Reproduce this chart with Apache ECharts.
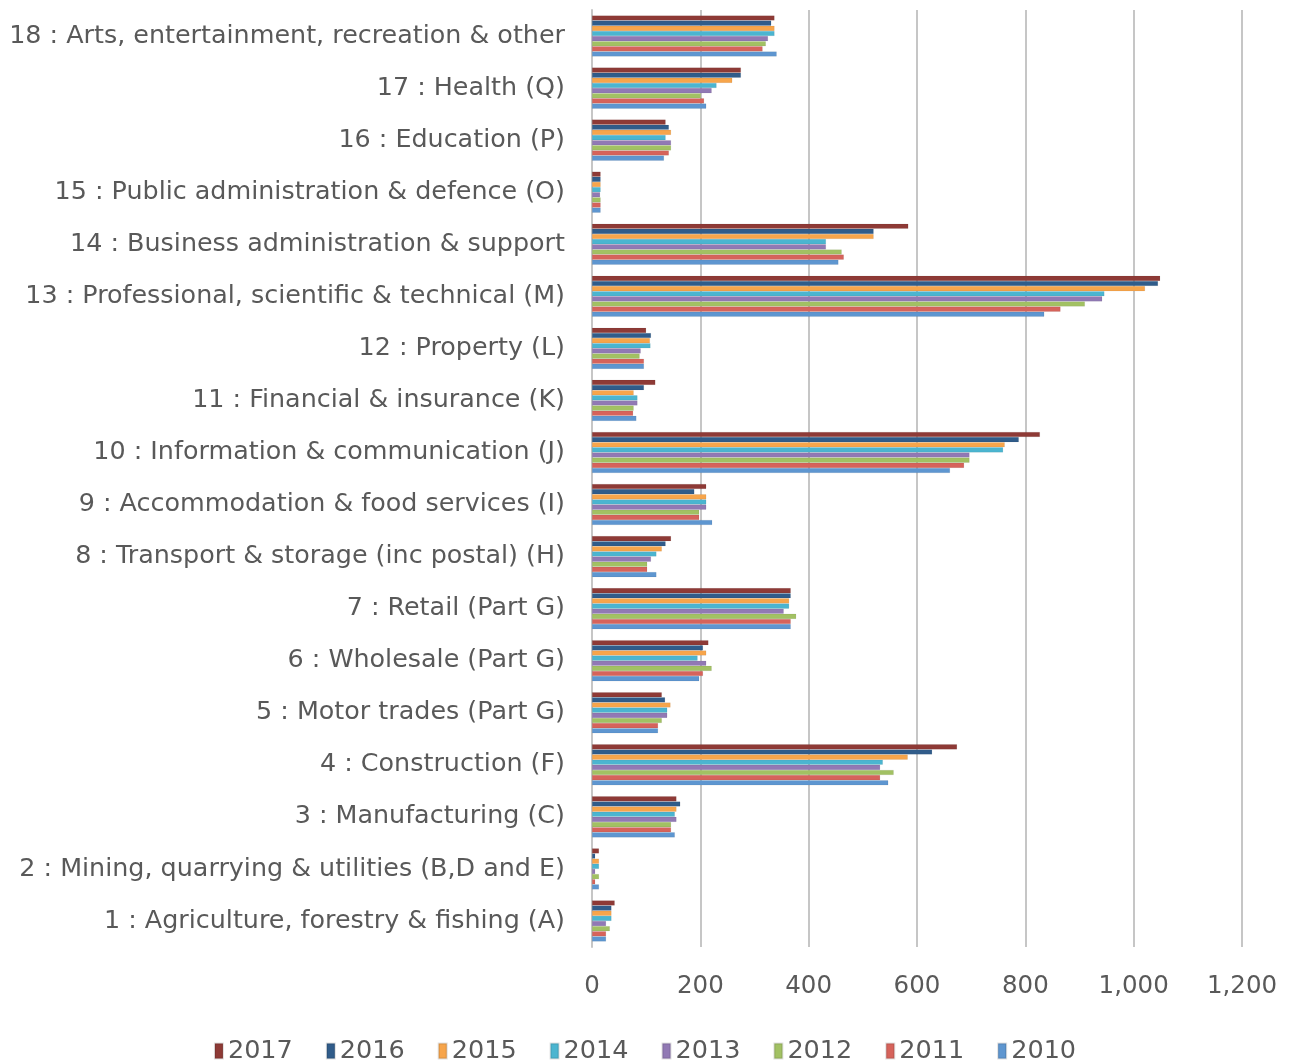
<!DOCTYPE html>
<html>
<head>
<meta charset="utf-8">
<script src="https://cdn.jsdelivr.net/npm/echarts@6/dist/echarts.min.js"></script>
<style>
  html, body { margin: 0; padding: 0; background: #fff; }
  #chart { width: 1290px; height: 1062px; }
</style>
</head>
<body>
<div id="chart"></div>
<script>
// categories bottom -> top
var sectors = [
  '1 : Agriculture, forestry & fishing (A)',
  '2 : Mining, quarrying & utilities (B,D and E)',
  '3 : Manufacturing (C)',
  '4 : Construction (F)',
  '5 : Motor trades (Part G)',
  '6 : Wholesale (Part G)',
  '7 : Retail (Part G)',
  '8 : Transport & storage (inc postal) (H)',
  '9 : Accommodation & food services (I)',
  '10 : Information & communication (J)',
  '11 : Financial & insurance (K)',
  '12 : Property (L)',
  '13 : Professional, scientific & technical (M)',
  '14 : Business administration & support',
  '15 : Public administration & defence (O)',
  '16 : Education (P)',
  '17 : Health (Q)',
  '18 : Arts, entertainment, recreation & other'
];

var years = ['2017', '2016', '2015', '2014', '2013', '2012', '2011', '2010'];
var yearColors = ['#8E3A36', '#305C8A', '#F7A54B', '#4BB5D0', '#9179B4', '#A2C163', '#D6635B', '#5E96D0'];

// values per year, same order as sectors
var v2017 = [42, 13, 156, 674, 129, 215, 367, 146, 211, 827, 117, 100, 1049, 584, 16, 136, 275, 337];
var v2016 = [36, 6, 163, 628, 135, 205, 367, 136, 189, 788, 96, 109, 1045, 520, 16, 142, 275, 331];
var v2015 = [36, 13, 156, 583, 145, 211, 364, 129, 211, 762, 77, 107, 1021, 520, 16, 146, 259, 337];
var v2014 = [36, 13, 153, 537, 139, 195, 364, 119, 211, 759, 84, 108, 946, 432, 16, 136, 230, 337];
var v2013 = [26, 6, 156, 532, 139, 211, 354, 109, 211, 697, 84, 90, 942, 432, 15, 146, 221, 325];
var v2012 = [33, 13, 146, 557, 129, 221, 377, 102, 198, 697, 77, 88, 910, 461, 16, 146, 201, 321];
var v2011 = [26, 6, 146, 532, 122, 205, 367, 102, 198, 687, 76, 96, 865, 465, 16, 142, 207, 315];
var v2010 = [26, 13, 153, 547, 122, 198, 367, 119, 222, 661, 82, 96, 835, 455, 16, 133, 211, 341];

var yearValues = [v2017, v2016, v2015, v2014, v2013, v2012, v2011, v2010];

var chart = echarts.init(document.getElementById('chart'));

var series = years.map(function (y, i) {
  return {
    name: y,
    type: 'bar',
    data: yearValues[i],
    barGap: '0%',
    barCategoryGap: '21%',
    itemStyle: { color: yearColors[i], borderColor: 'rgba(0,0,0,0.12)', borderWidth: 0.5 }
  };
});

var option = {
  animation: false,
  color: yearColors,
  grid: { left: 592, right: 48, top: 10, bottom: 115, containLabel: false },
  legend: {
    data: years,
    top: 1033,
    left: 'center',
    itemWidth: 8,
    itemHeight: 15,
    itemGap: 33,
    icon: 'rect',
    textStyle: { fontFamily: 'DejaVu Sans', fontSize: 25.5, color: '#595959' }
  },
  xAxis: {
    type: 'value',
    min: 0,
    max: 1200,
    interval: 200,
    axisLine: { show: false },
    axisTick: { show: false },
    splitLine: { lineStyle: { color: '#c6c6c6', width: 2 } },
    axisLabel: {
      margin: 27,
      fontFamily: 'DejaVu Sans',
      fontSize: 24.5,
      color: '#595959',
      formatter: function (v) { return v.toLocaleString('en-US'); }
    }
  },
  yAxis: {
    type: 'category',
    data: sectors,
    axisLine: { show: true, lineStyle: { color: '#c6c6c6', width: 2 } },
    axisTick: { show: false },
    axisLabel: {
      margin: 27,
      fontFamily: 'DejaVu Sans',
      fontSize: 25.4,
      color: '#595959',
      padding: [4, 0, 0, 0]
    }
  },
  series: series
};

chart.setOption(option);
</script>
</body>
</html>
